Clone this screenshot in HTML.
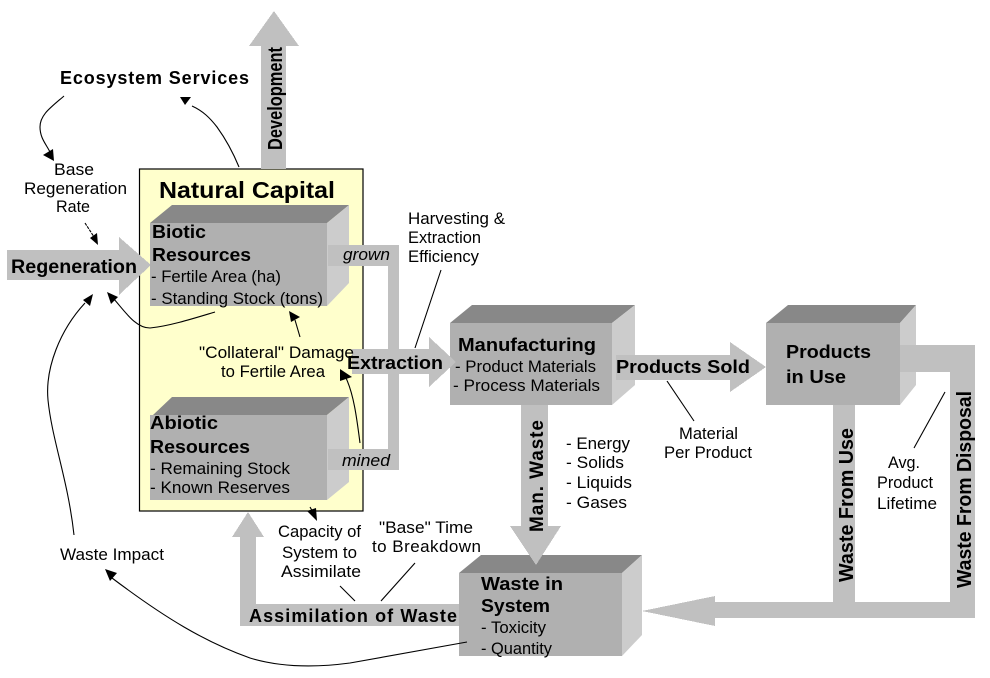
<!DOCTYPE html>
<html><head><meta charset="utf-8"><style>
html,body{margin:0;padding:0;background:#fff}
svg{display:block}
text{font-family:"Liberation Sans",Arial,sans-serif;fill:#000;font-size:17px}
.b{font-weight:bold;font-size:18px}
.v{font-weight:bold;font-size:20px}
.i{font-style:italic}
.ar{fill:#c0c0c0}
.f{fill:#b0b0b0}.t{fill:#888}.s{fill:#ccc}
.l{fill:none;stroke:#000;stroke-width:1.1}
.h{fill:#000}
</style></head><body>
<svg width="990" height="678" viewBox="0 0 990 678" xmlns="http://www.w3.org/2000/svg">
<rect x="139.5" y="169" width="223.5" height="342" fill="#ffffcc" stroke="#000" stroke-width="1.2"/>

<g shape-rendering="crispEdges">
<polygon class="ar" points="261,169 261,46 249,46 274,11 299,46 286,46 286,169"/>
<polygon class="ar" points="7,250 119,250 119,237 151,265 119,295 119,280 7,280"/>
<polygon class="ar" points="240,626 240,537 232,537 248,512 264,537 256,537 256,604 459,604 459,626"/>
</g>

<!-- boxes -->
<polygon class="t" points="150,223 172,205 349,205 327,223"/><polygon class="s" points="327,223 349,205 349,283 327,306"/><rect class="f" x="150" y="223" width="177" height="83"/>
<polygon class="t" points="153,415 172,397 349,397 327,415"/><polygon class="s" points="327,415 349,397 349,482 327,500"/><rect class="f" x="150" y="415" width="177" height="85"/>
<polygon class="t" points="450,323 472,305 635,305 612,323"/><polygon class="s" points="612,323 635,305 635,385 612,405"/><rect class="f" x="450" y="323" width="162" height="82"/>
<polygon class="t" points="766,323 788,305 916,305 900,323"/><polygon class="s" points="900,323 916,305 916,385 900,405"/><rect class="f" x="766" y="323" width="134" height="82"/>
<polygon class="t" points="459,573 481,555 642,555 622,573"/><polygon class="s" points="622,573 642,555 642,635 622,656"/><rect class="f" x="459" y="573" width="163" height="83"/>

<g shape-rendering="crispEdges">
<polygon class="ar" points="328,245 399,245 399,470 328,470 328,449 388,449 388,266 328,266"/>
<polygon class="ar" points="352,349 429,349 429,337 456,362 429,387 429,374 352,374"/>
<polygon class="ar" points="616,355 730,355 730,342 766,367 730,392 730,380 616,380"/>
<polygon class="ar" points="521,405 548,405 548,526 561,526 536,565 510,526 521,526"/>
<rect class="ar" x="833" y="405" width="22" height="200"/>
<polygon class="ar" points="900,345 975,345 975,618 715,618 715,626 642,611 715,596 715,602 950,602 950,372 900,372"/>
</g>

<!-- connectors -->
<path class="l" d="M64,96 C50,108 40,115 40,127 C40,138 46,144 50,152"/>
<polygon class="h" points="43,155 53,149 54,161"/>
<path class="l" d="M239,167 C232,150 225,138 217,127 C210,118 203,111 192,106"/>
<polygon class="h" points="180,97 191,97 185,105"/>
<path class="l" d="M85,223 L96,240" stroke-dasharray="3 1"/>
<polygon class="h" points="90,238 97,233 98,245"/>
<path class="l" d="M215,312 C195,318 170,326 150,328 C135,328 124,310 113,298"/>
<polygon class="h" points="107,292 118,297 111,304"/>
<path class="l" d="M74,535 C68,480 52,440 48,400 C45,368 60,330 85,303"/>
<polygon class="h" points="93,294 90,306 83,300"/>
<path class="l" d="M467,642 L350,663 C320,667 283,668 250,658 C205,642 165,618 112,578"/>
<polygon class="h" points="105,569 117,573 110,581"/>
<path class="l" d="M300,337 L295,320"/>
<polygon class="h" points="289,311 300,317 291,322"/>
<path class="l" d="M360,443 C357,420 354,395 346,378"/>
<polygon class="h" points="340,369 352,377 340,381"/>
<path class="l" d="M310,507 L314,514"/>
<polygon class="h" points="307,511 316,508 317,521"/>
<path class="l" d="M415,348 L441,270"/>
<path class="l" d="M667,381 L694,421"/>
<path class="l" d="M945,392 L914,448"/>
<path class="l" d="M340,586 L355,601"/>
<path class="l" d="M415,563 L381,601"/>

<!-- labels -->
<text class="b" lengthAdjust="spacing" x="60" y="84" textLength="189">Ecosystem Services</text>
<text lengthAdjust="spacingAndGlyphs" x="54" y="175" textLength="40">Base</text>
<text lengthAdjust="spacingAndGlyphs" x="24" y="194" textLength="103">Regeneration</text>
<text lengthAdjust="spacingAndGlyphs" x="56" y="212" textLength="34">Rate</text>
<text class="b" lengthAdjust="spacingAndGlyphs" x="159" y="198" textLength="176" style="font-size:23px">Natural Capital</text>
<text class="b" lengthAdjust="spacingAndGlyphs" x="152" y="238" textLength="54">Biotic</text>
<text class="b" lengthAdjust="spacingAndGlyphs" x="152" y="261" textLength="99">Resources</text>
<text lengthAdjust="spacingAndGlyphs" x="151" y="282" textLength="130">- Fertile Area (ha)</text>
<text lengthAdjust="spacingAndGlyphs" x="151" y="304" textLength="172">- Standing Stock (tons)</text>
<text class="i" lengthAdjust="spacingAndGlyphs" x="343" y="260" textLength="47">grown</text>
<text lengthAdjust="spacingAndGlyphs" x="408" y="224" textLength="97">Harvesting &amp;</text>
<text lengthAdjust="spacingAndGlyphs" x="408" y="243" textLength="73">Extraction</text>
<text lengthAdjust="spacingAndGlyphs" x="408" y="262" textLength="71">Efficiency</text>
<text class="b" lengthAdjust="spacingAndGlyphs" x="11" y="273" textLength="126" style="font-size:19px">Regeneration</text>
<text lengthAdjust="spacingAndGlyphs" x="199" y="358" textLength="155">"Collateral" Damage</text>
<text lengthAdjust="spacingAndGlyphs" x="221" y="377" textLength="104">to Fertile Area</text>
<text class="b" lengthAdjust="spacingAndGlyphs" x="347" y="369" textLength="96">Extraction</text>
<text class="b" lengthAdjust="spacingAndGlyphs" x="458" y="351" textLength="138">Manufacturing</text>
<text lengthAdjust="spacingAndGlyphs" x="455" y="372" textLength="141">- Product Materials</text>
<text lengthAdjust="spacingAndGlyphs" x="453" y="391" textLength="147">- Process Materials</text>
<text class="b" lengthAdjust="spacingAndGlyphs" x="616" y="373" textLength="134">Products Sold</text>
<text class="b" lengthAdjust="spacingAndGlyphs" x="786" y="358" textLength="85">Products</text>
<text class="b" lengthAdjust="spacingAndGlyphs" x="786" y="383" textLength="60">in Use</text>
<text class="b" lengthAdjust="spacingAndGlyphs" x="150" y="429" textLength="68">Abiotic</text>
<text class="b" lengthAdjust="spacingAndGlyphs" x="150" y="453" textLength="100">Resources</text>
<text lengthAdjust="spacingAndGlyphs" x="150" y="474" textLength="140">- Remaining Stock</text>
<text lengthAdjust="spacingAndGlyphs" x="150" y="493" textLength="140">- Known Reserves</text>
<text class="i" lengthAdjust="spacingAndGlyphs" x="342" y="466" textLength="48">mined</text>
<text lengthAdjust="spacingAndGlyphs" x="278" y="537" textLength="83">Capacity of</text>
<text lengthAdjust="spacingAndGlyphs" x="282" y="558" textLength="75">System to</text>
<text lengthAdjust="spacingAndGlyphs" x="281" y="577" textLength="80">Assimilate</text>
<text lengthAdjust="spacingAndGlyphs" x="379" y="533" textLength="94">"Base" Time</text>
<text lengthAdjust="spacing" x="372" y="552" textLength="109">to Breakdown</text>
<text lengthAdjust="spacingAndGlyphs" x="60" y="560" textLength="104">Waste Impact</text>
<text class="b" lengthAdjust="spacing" x="249" y="622" textLength="208">Assimilation of Waste</text>
<text class="b" lengthAdjust="spacingAndGlyphs" x="481" y="590" textLength="82">Waste in</text>
<text class="b" lengthAdjust="spacingAndGlyphs" x="481" y="612" textLength="69">System</text>
<text lengthAdjust="spacingAndGlyphs" x="481" y="633" textLength="65">- Toxicity</text>
<text lengthAdjust="spacingAndGlyphs" x="481" y="654" textLength="71">- Quantity</text>
<text lengthAdjust="spacingAndGlyphs" x="566" y="449" textLength="64">- Energy</text>
<text lengthAdjust="spacingAndGlyphs" x="566" y="468" textLength="58">- Solids</text>
<text lengthAdjust="spacingAndGlyphs" x="566" y="488" textLength="66">- Liquids</text>
<text lengthAdjust="spacingAndGlyphs" x="566" y="508" textLength="61">- Gases</text>
<text lengthAdjust="spacingAndGlyphs" x="679" y="439" textLength="59">Material</text>
<text lengthAdjust="spacingAndGlyphs" x="664" y="458" textLength="88">Per Product</text>
<text lengthAdjust="spacingAndGlyphs" x="888" y="468" textLength="32">Avg.</text>
<text lengthAdjust="spacingAndGlyphs" x="877" y="488" textLength="56">Product</text>
<text lengthAdjust="spacingAndGlyphs" x="877" y="509" textLength="60">Lifetime</text>
<text class="v" lengthAdjust="spacingAndGlyphs" transform="translate(282,150) rotate(-90)" textLength="103">Development</text>
<text class="v" lengthAdjust="spacing" transform="translate(543,532) rotate(-90)" textLength="112" style="font-size:19px">Man. Waste</text>
<text class="v" lengthAdjust="spacingAndGlyphs" transform="translate(853,582) rotate(-90)" textLength="154">Waste From Use</text>
<text class="v" lengthAdjust="spacingAndGlyphs" transform="translate(971,588) rotate(-90)" textLength="197">Waste From Disposal</text>
</svg>
</body></html>
